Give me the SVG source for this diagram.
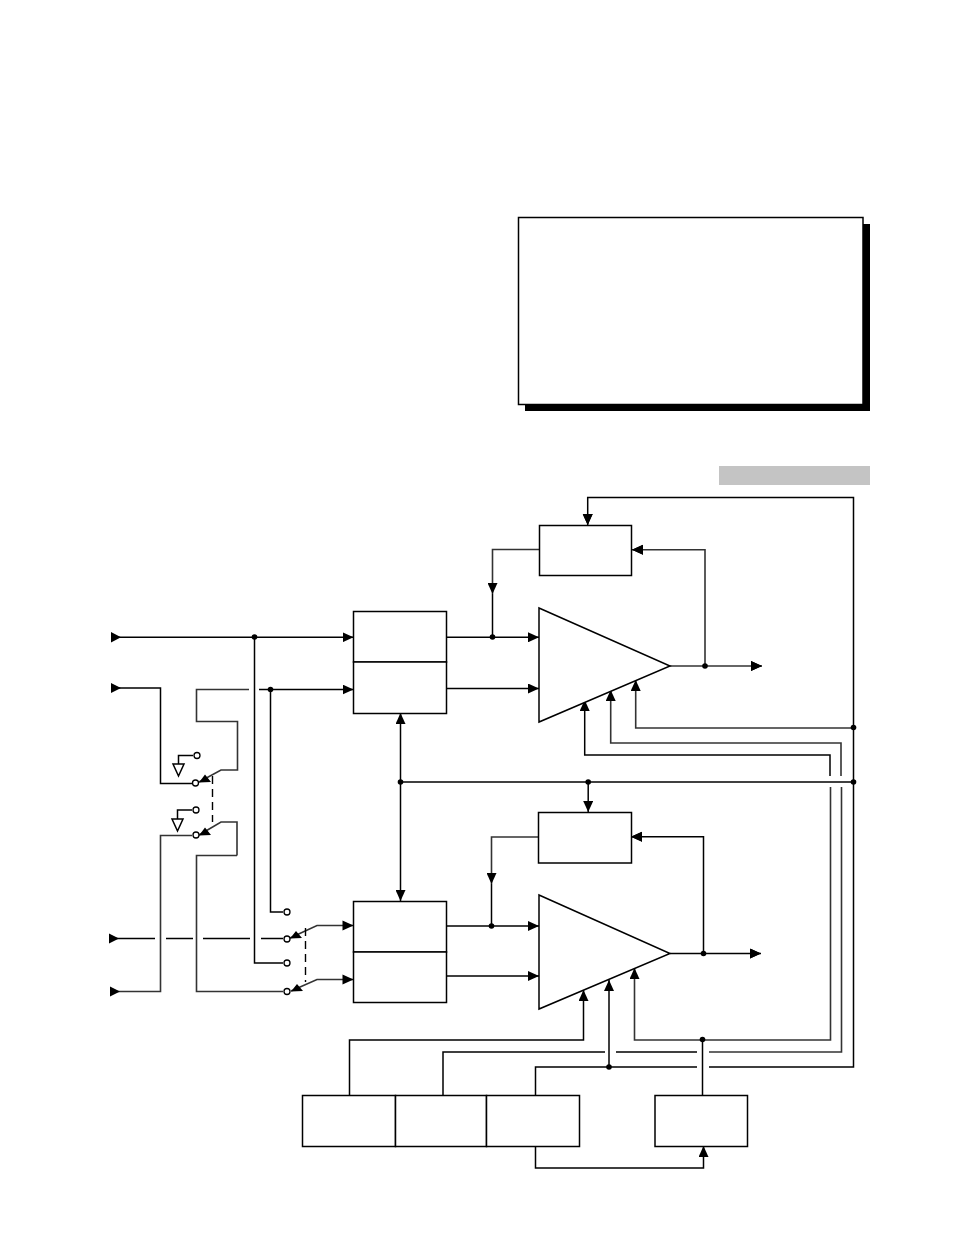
<svg xmlns="http://www.w3.org/2000/svg" width="954" height="1235" viewBox="0 0 954 1235">
<style>
.s{fill:#fff;stroke:#000;stroke-width:1.5}
.l{fill:none;stroke:#000;stroke-width:1.5}
.g{fill:none;stroke:#333;stroke-width:1.6}
.d{fill:#000}
.o{fill:#fff;stroke:#000;stroke-width:1.3}
.da{fill:none;stroke:#000;stroke-width:1.4;stroke-dasharray:8 5}
</style>
<defs>
<marker id="a" markerUnits="userSpaceOnUse" markerWidth="11" markerHeight="10" refX="11" refY="5" orient="auto"><path d="M0 0L11 5L0 10Z" fill="#000"/></marker>
<marker id="b" markerUnits="userSpaceOnUse" markerWidth="11" markerHeight="10" refX="0" refY="5" orient="auto"><path d="M0 5L11 0L11 10Z" fill="#000"/></marker>
</defs>
<g id="note"><rect x="525" y="224" width="345" height="187" fill="#000"/><rect class="s" x="518.500" y="217.500" width="344.500" height="187"/></g>
<rect id="bar" x="719" y="466" width="151" height="19" fill="#c4c4c4"/>
<g id="connectors">
<path class="l" d="M853.500 782V497.500H587.700V525" marker-end="url(#a)"/>
<path class="g" d="M705 666V549.700H632" marker-end="url(#a)"/>
<path class="g" d="M670 666H762" marker-end="url(#a)"/>
<path class="g" d="M539 549.500H492.500V594" marker-end="url(#a)"/>
<path class="l" d="M492.500 594V637"/>
<path class="l" d="M446 637.300H539" marker-end="url(#a)"/>
<path class="l" d="M446 688.500H539" marker-end="url(#a)"/>
<path class="g" d="M853.500 728H635.700V680" marker-end="url(#a)"/>
<path class="g" d="M841 776V743H610.700V690" marker-end="url(#a)"/>
<path class="l" d="M830 776V755H584.700V700" marker-end="url(#a)"/>
<path class="l" d="M400.500 713V901" marker-start="url(#b)" marker-end="url(#a)"/>
<path class="l" d="M400.500 782H853.500"/>
<path class="l" d="M588.200 782V812" marker-end="url(#a)"/>
<path class="l" d="M703.500 953.500V836.700H631" marker-end="url(#a)"/>
<path class="l" d="M670 953.500H761" marker-end="url(#a)"/>
<path class="g" d="M538.500 837H491.500V884" marker-end="url(#a)"/>
<path class="l" d="M491.500 884V926"/>
<path class="l" d="M446 926H539" marker-end="url(#a)"/>
<path class="l" d="M446 976H539" marker-end="url(#a)"/>
<path class="g" d="M830.500 787V1040H634.500V968" marker-end="url(#a)"/>
<path class="l" d="M349.500 1095V1040H583.500V990" marker-end="url(#a)"/>
<path class="g" d="M841.500 787V1052H709"/>
<path class="l" d="M697 1052H616M605 1052H443V1095"/>
<path class="l" d="M853.500 782V1067H709M697 1067H535.500V1095"/>
<path class="l" d="M609 1067V980" marker-end="url(#a)"/>
<path class="l" d="M702.500 1039.500V1095"/>
<path class="l" d="M535.500 1146V1168H703.500V1146" marker-end="url(#a)"/>
<path class="l" d="M111 637.300H353.500" marker-end="url(#a)"/>
<path class="l" d="M254.500 637V963H283"/>
<path class="l" d="M111 688H160.500V783.500H192"/>
<path class="g" d="M249 689.500H196.500V721.500H237.500V770H221L199 782"/>
<path class="l" d="M259 689.500H353.500" marker-end="url(#a)"/>
<path class="l" d="M270.500 689.500V912H283"/>
<path class="l" d="M193 755.500H178.500V764"/>
<path class="l" d="M192 810H177.500V819"/>
<path class="da" d="M212.500 776V822"/>
<path class="g" d="M110 991.500H160.500V835.500H192"/>
<path class="g" d="M237 855.500V822H221L199 835"/>
<path class="g" d="M237 855.500H196.500V991.500H283"/>
<path class="l" d="M109 938.500H155M166 938.500H193M203 938.500H250M261 938.500H283"/>
<path class="g" d="M353.500 925.500H317L290 938"/>
<path class="g" d="M353.500 979.500H317L291 991"/>
<path class="da" d="M305.500 928V982"/>
<path d="M111 632L121 637.300L111 642.500ZM111 683L121 688L111 693ZM109 933.500L119 938.500L109 943.500ZM110 986.500L120 991.500L110 996.500Z" fill="#000"/>
<path d="M353.500 925.500l-11 -5v10zM353.500 979.500l-11 -5v10zM290 938.500l12 -0.500 -6 -7zM291 991.500l12 -0.500 -6 -7zM199 782.500l12 -0.500 -6 -7.500zM199 835.500l12 -0.500 -6 -7.500z" fill="#000"/>
</g>
<g id="box-top"><rect class="s" x="539.500" y="525.500" width="92" height="50"/></g>
<g id="box-bottom"><rect class="s" x="538.500" y="812.500" width="93" height="50.500"/></g>
<g id="amp-top"><path class="s" d="M539 608L670 666L539 722Z"/></g>
<g id="amp-bottom"><path class="s" d="M539 895L670 953.500L539 1009Z"/></g>
<g id="mix-top"><rect class="s" x="353.500" y="611.500" width="93" height="50.500"/><rect class="s" x="353.500" y="662" width="93" height="51.500"/></g>
<g id="mix-bottom"><rect class="s" x="353.500" y="901.500" width="93" height="50.500"/><rect class="s" x="353.500" y="952" width="93" height="50.500"/></g>
<g id="ctrl-1"><rect class="s" x="302.500" y="1095.500" width="93" height="51"/></g>
<g id="ctrl-2"><rect class="s" x="395.500" y="1095.500" width="91" height="51"/></g>
<g id="ctrl-3"><rect class="s" x="486.500" y="1095.500" width="93" height="51"/></g>
<g id="ctrl-4"><rect class="s" x="655" y="1095.500" width="92.500" height="51"/></g>
<g id="ground-1"><path class="s" d="M173 764H184L178.500 776Z"/></g>
<g id="ground-2"><path class="s" d="M172 819H183L177.500 831Z"/></g>
<g id="arrow-fix">
<path d="M587.700 525l-5 -11h10zM632 549.700l11 -5v10zM762 666l-11 -5v10zM761 953.500l-11 -5v10zM631 836.700l11 -5v10z" fill="#000"/>
</g>
<g id="junctions">
<circle class="d" cx="254.500" cy="637" r="2.800"/><circle class="d" cx="270.500" cy="689.500" r="2.800"/>
<circle class="d" cx="492.500" cy="637" r="2.800"/><circle class="d" cx="705" cy="666" r="2.800"/>
<circle class="d" cx="853.500" cy="727.500" r="2.800"/><circle class="d" cx="400.500" cy="782" r="2.800"/>
<circle class="d" cx="588.200" cy="782" r="2.800"/><circle class="d" cx="853.500" cy="782" r="2.800"/>
<circle class="d" cx="491.500" cy="926" r="2.800"/><circle class="d" cx="703.500" cy="953.500" r="2.800"/>
<circle class="d" cx="702.500" cy="1039.500" r="2.800"/><circle class="d" cx="609" cy="1067" r="2.800"/>
<circle class="o" cx="197" cy="755.500" r="3"/><circle class="o" cx="195.500" cy="783" r="3"/>
<circle class="o" cx="196" cy="810" r="3"/><circle class="o" cx="196" cy="835" r="3"/>
<circle class="o" cx="287" cy="912" r="3"/><circle class="o" cx="287" cy="939" r="3"/>
<circle class="o" cx="287" cy="963" r="3"/><circle class="o" cx="287" cy="991.500" r="3"/>
</g>
</svg>
